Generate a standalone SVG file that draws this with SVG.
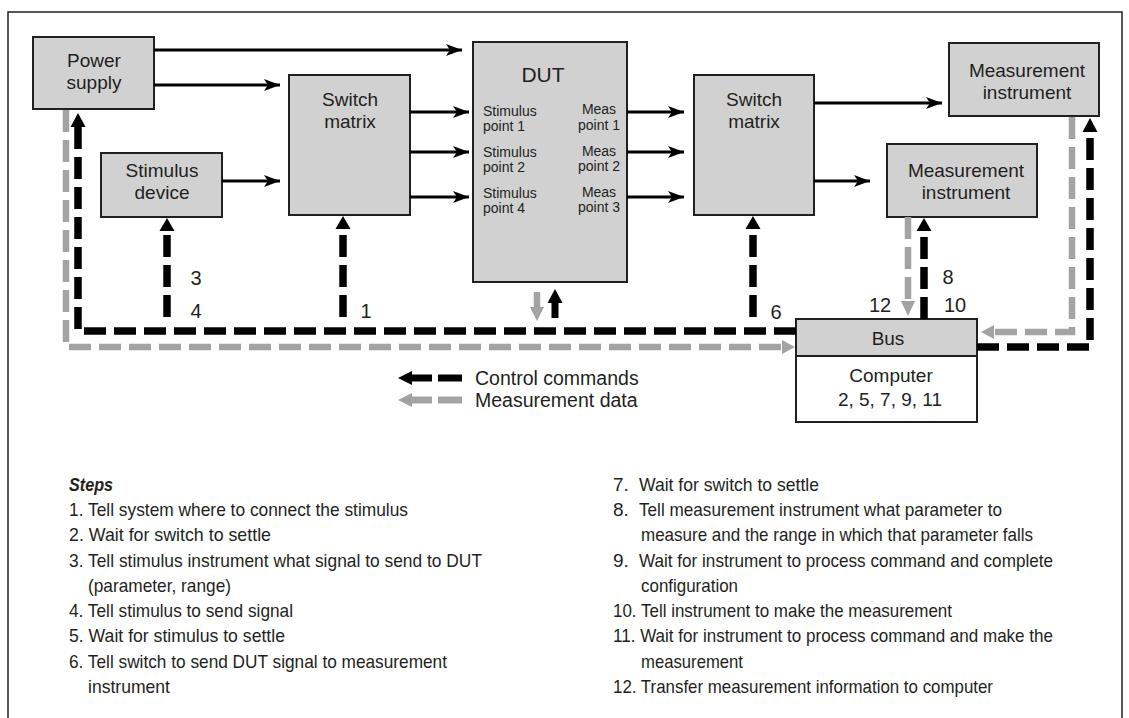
<svg xmlns="http://www.w3.org/2000/svg" width="1129" height="718" viewBox="0 0 1129 718">
<style>
.box{fill:#d1d1d1;stroke:#231f20;stroke-width:2}
.wbox{fill:#ffffff;stroke:#231f20;stroke-width:2}
.lbl{font-family:"Liberation Sans",Arial,sans-serif;font-size:19px;fill:#231f20;text-anchor:middle}
.small{font-family:"Liberation Sans",Arial,sans-serif;font-size:14px;fill:#231f20}
.num{font-family:"Liberation Sans",Arial,sans-serif;font-size:20px;fill:#231f20;text-anchor:middle}
.step{font-family:"Liberation Sans",Arial,sans-serif;font-size:19px;fill:#231f20}
.sol{fill:none;stroke:#000;stroke-width:3}
.bd{fill:none;stroke:#000;stroke-width:7.5;stroke-dasharray:22 8}
.gd{fill:none;stroke:#a3a3a3;stroke-width:6.5;stroke-dasharray:22 8}
.bh{fill:#000}
.gh{fill:#a3a3a3}
</style>
<defs>
<marker id="ah" markerUnits="userSpaceOnUse" markerWidth="17" markerHeight="13" refX="16" refY="6" orient="auto">
<path d="M0,0 L16,6 L0,12 L4,6 Z" fill="#000"/>
</marker>
</defs>
<rect x="8" y="12" width="1114" height="730" fill="#fff" stroke="#231f20" stroke-width="1.5"/>

<g id="power-supply">
<rect class="box" x="33" y="37" width="121" height="72"/>
<text class="lbl" x="94" y="67">Power</text>
<text class="lbl" x="94" y="89">supply</text>
</g>
<g id="stimulus-device">
<rect class="box" x="101" y="153" width="121" height="64"/>
<text class="lbl" x="162" y="177">Stimulus</text>
<text class="lbl" x="162" y="199">device</text>
</g>
<g id="switch-matrix-1">
<rect class="box" x="289" y="75" width="121" height="140"/>
<text class="lbl" x="350" y="106">Switch</text>
<text class="lbl" x="350" y="128">matrix</text>
</g>
<g id="dut">
<rect class="box" x="473" y="42" width="154" height="240"/>
<text class="lbl" x="543" y="82" style="font-size:21px">DUT</text>
<text class="small" x="483" y="116">Stimulus</text>
<text class="small" x="483" y="131">point 1</text>
<text class="small" x="483" y="157">Stimulus</text>
<text class="small" x="483" y="172">point 2</text>
<text class="small" x="483" y="198">Stimulus</text>
<text class="small" x="483" y="213">point 4</text>
<text class="small" x="599" y="114" text-anchor="middle">Meas</text>
<text class="small" x="599" y="130" text-anchor="middle">point 1</text>
<text class="small" x="599" y="156" text-anchor="middle">Meas</text>
<text class="small" x="599" y="171" text-anchor="middle">point 2</text>
<text class="small" x="599" y="197" text-anchor="middle">Meas</text>
<text class="small" x="599" y="212" text-anchor="middle">point 3</text>
</g>
<g id="switch-matrix-2">
<rect class="box" x="694" y="75" width="120" height="140"/>
<text class="lbl" x="754" y="106">Switch</text>
<text class="lbl" x="754" y="128">matrix</text>
</g>
<g id="measurement-instrument-1">
<rect class="box" x="949" y="43" width="150" height="73"/>
<text class="lbl" x="1027" y="77">Measurement</text>
<text class="lbl" x="1027" y="99">instrument</text>
</g>
<g id="measurement-instrument-2">
<rect class="box" x="887" y="144" width="150" height="73"/>
<text class="lbl" x="966" y="177">Measurement</text>
<text class="lbl" x="966" y="199">instrument</text>
</g>
<g id="computer">
<rect class="box" x="796" y="319" width="181" height="37"/>
<rect class="wbox" x="796" y="356" width="181" height="66"/>
<text class="lbl" x="888" y="345">Bus</text>
<text class="lbl" x="891" y="382">Computer</text>
<text class="lbl" x="890" y="406">2, 5, 7, 9, 11</text>
</g>

<g id="connectors">
<line class="sol" x1="154" y1="50" x2="462" y2="50" marker-end="url(#ah)"/>
<line class="sol" x1="154" y1="85" x2="280" y2="85" marker-end="url(#ah)"/>
<line class="sol" x1="222" y1="181" x2="280" y2="181" marker-end="url(#ah)"/>
<line class="sol" x1="410" y1="112" x2="469" y2="112" marker-end="url(#ah)"/>
<line class="sol" x1="410" y1="152" x2="469" y2="152" marker-end="url(#ah)"/>
<line class="sol" x1="410" y1="197" x2="469" y2="197" marker-end="url(#ah)"/>
<line class="sol" x1="627" y1="112" x2="684" y2="112" marker-end="url(#ah)"/>
<line class="sol" x1="627" y1="152" x2="684" y2="152" marker-end="url(#ah)"/>
<line class="sol" x1="627" y1="197" x2="684" y2="197" marker-end="url(#ah)"/>
<line class="sol" x1="814" y1="103" x2="942" y2="103" marker-end="url(#ah)"/>
<line class="sol" x1="814" y1="181" x2="870" y2="181" marker-end="url(#ah)"/>

<!-- measurement data (gray dashed) -->
<path class="gd" d="M66,110 V347 H782"/>
<polygon class="gh" points="795,347 782,340 782,354"/>
<path class="gd" d="M908,217 V301"/>
<polygon class="gh" points="908,316 901,301 915,301"/>
<path class="gd" d="M1072,117 V332 H994"/>
<polygon class="gh" points="981,332 994,325 994,339"/>

<!-- control commands (black dashed) -->
<path class="bd" d="M796,331 H78 V127"/>
<polygon class="bh" points="78,113 70.5,127 85.5,127"/>
<path class="bd" d="M167,317 V231"/>
<polygon class="bh" points="167,218 159.5,231 174.5,231"/>
<path class="bd" d="M343,317 V229"/>
<polygon class="bh" points="343,216 335.5,229 350.5,229"/>
<path class="bd" d="M753,317 V229"/>
<polygon class="bh" points="753,216 745.5,229 760.5,229"/>
<path class="bd" d="M924,319 V231"/>
<polygon class="bh" points="924,218 916.5,231 931.5,231"/>
<path class="bd" d="M977,347 H1090 V132"/>
<polygon class="bh" points="1090,118 1082.5,132 1097.5,132"/>

<!-- DUT short arrows -->
<line x1="537" y1="292" x2="537" y2="308" stroke="#a3a3a3" stroke-width="6.5"/>
<polygon class="gh" points="537,321 530,307 544,307"/>
<line x1="555" y1="318" x2="555" y2="302" stroke="#000" stroke-width="7"/>
<polygon class="bh" points="555,289 547.5,303 562.5,303"/>

<!-- legend -->
<line x1="410" y1="378" x2="432" y2="378" stroke="#000" stroke-width="7"/>
<polygon class="bh" points="398,378 412,371 412,385"/>
<line x1="438" y1="378" x2="462" y2="378" stroke="#000" stroke-width="7"/>
<line x1="410" y1="400" x2="432" y2="400" stroke="#a3a3a3" stroke-width="7"/>
<polygon class="gh" points="398,400 412,393 412,407"/>
<line x1="438" y1="400" x2="462" y2="400" stroke="#a3a3a3" stroke-width="7"/>
</g>

<g id="labels">
<text class="num" x="196" y="285">3</text>
<text class="num" x="196" y="318">4</text>
<text class="num" x="366" y="318">1</text>
<text class="num" x="776" y="319">6</text>
<text class="num" x="948" y="284">8</text>
<text class="num" x="955" y="312">10</text>
<text class="num" x="880" y="312">12</text>
<text class="lbl" x="475" y="385" style="text-anchor:start;font-size:19.5px">Control commands</text>
<text class="lbl" x="475" y="407" style="text-anchor:start;font-size:19.5px">Measurement data</text>
</g>

<g id="steps">
<text class="step" x="69" y="491" style="font-weight:bold;font-style:italic" textLength="44" lengthAdjust="spacingAndGlyphs">Steps</text>
<text class="step" x="69" y="516" textLength="339" lengthAdjust="spacingAndGlyphs">1. Tell system where to connect the stimulus</text>
<text class="step" x="69" y="541" textLength="202" lengthAdjust="spacingAndGlyphs">2. Wait for switch to settle</text>
<text class="step" x="69" y="567" textLength="413" lengthAdjust="spacingAndGlyphs">3. Tell stimulus instrument what signal to send to DUT</text>
<text class="step" x="88" y="592" textLength="143" lengthAdjust="spacingAndGlyphs">(parameter, range)</text>
<text class="step" x="69" y="617" textLength="224" lengthAdjust="spacingAndGlyphs">4. Tell stimulus to send signal</text>
<text class="step" x="69" y="642" textLength="216" lengthAdjust="spacingAndGlyphs">5. Wait for stimulus to settle</text>
<text class="step" x="69" y="668" textLength="378" lengthAdjust="spacingAndGlyphs">6. Tell switch to send DUT signal to measurement</text>
<text class="step" x="88" y="693" textLength="82" lengthAdjust="spacingAndGlyphs">instrument</text>

<text class="step" x="613" y="491">7.</text>
<text class="step" x="639" y="491" textLength="180" lengthAdjust="spacingAndGlyphs">Wait for switch to settle</text>
<text class="step" x="613" y="516">8.</text>
<text class="step" x="639" y="516" textLength="363" lengthAdjust="spacingAndGlyphs">Tell measurement instrument what parameter to</text>
<text class="step" x="641" y="541" textLength="392" lengthAdjust="spacingAndGlyphs">measure and the range in which that parameter falls</text>
<text class="step" x="613" y="567">9.</text>
<text class="step" x="639" y="567" textLength="414" lengthAdjust="spacingAndGlyphs">Wait for instrument to process command and complete</text>
<text class="step" x="641" y="592" textLength="97" lengthAdjust="spacingAndGlyphs">configuration</text>
<text class="step" x="613" y="617" textLength="339" lengthAdjust="spacingAndGlyphs">10. Tell instrument to make the measurement</text>
<text class="step" x="613" y="642" textLength="440" lengthAdjust="spacingAndGlyphs">11. Wait for instrument to process command and make the</text>
<text class="step" x="641" y="668" textLength="102" lengthAdjust="spacingAndGlyphs">measurement</text>
<text class="step" x="613" y="693" textLength="380" lengthAdjust="spacingAndGlyphs">12. Transfer measurement information to computer</text>
</g>
</svg>
